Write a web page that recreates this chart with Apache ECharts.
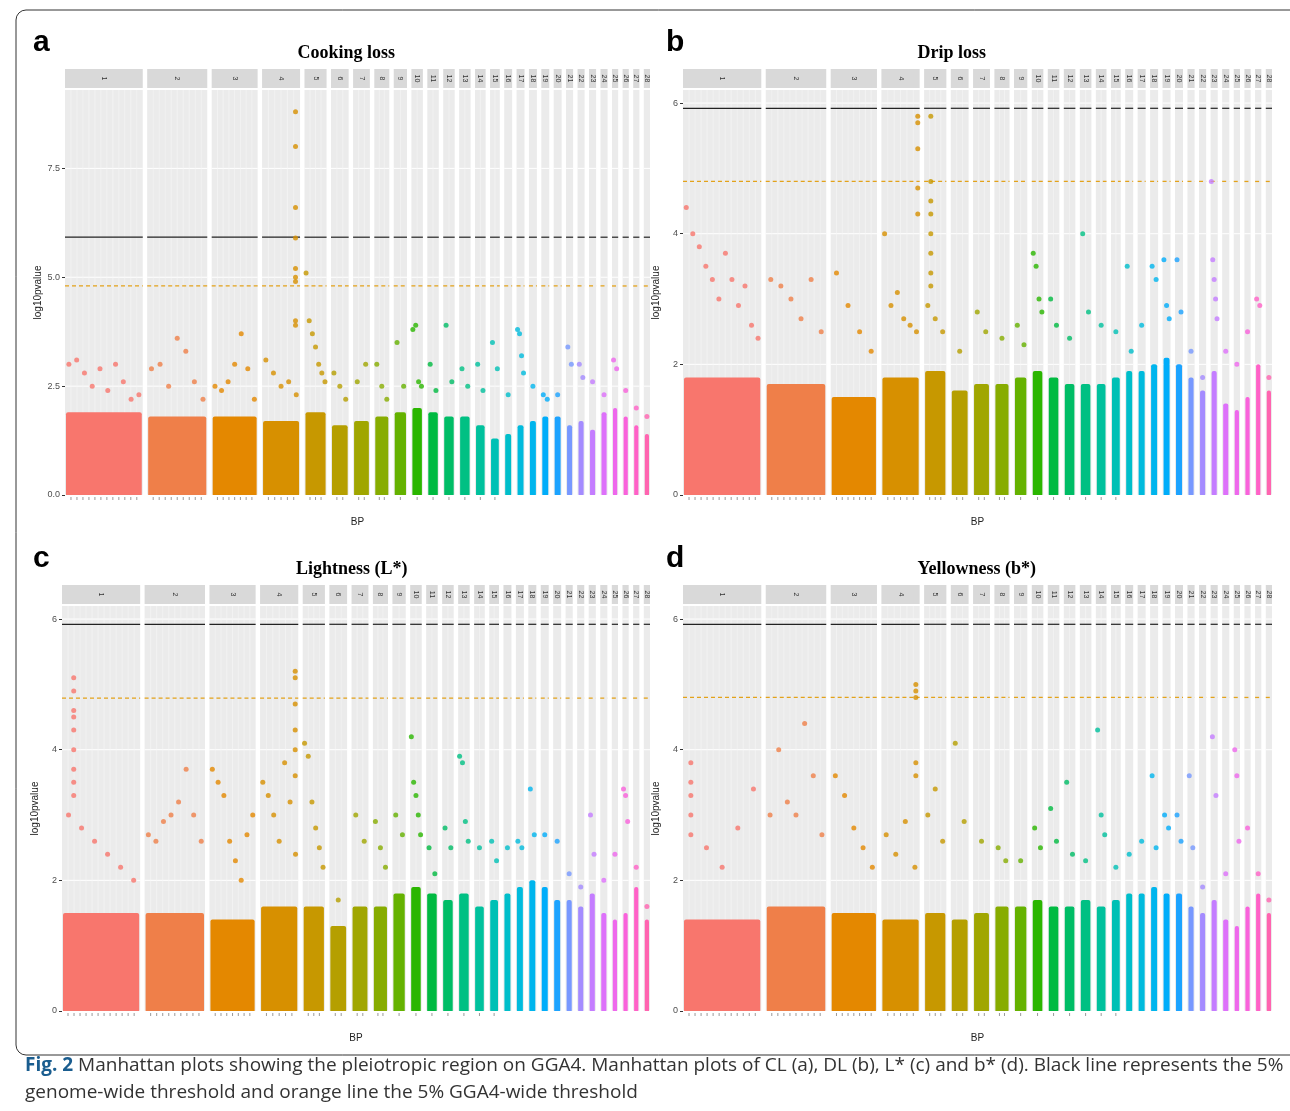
<!DOCTYPE html>
<html>
<head>
<meta charset="utf-8">
<title>Manhattan plots</title>
<script src="https://cdn.jsdelivr.net/npm/echarts@6/dist/echarts.min.js"></script>
</head>
<body style="margin:0;background:#fff">
<div id="main" style="width:1290px;height:1111px;"></div>
<script type="text/javascript">
// chromosome facets and their relative widths
var chroms = ['1','2','3','4','5','6','7','8','9','10','11','12','13','14','15','16','17','18','19','20','21','22','23','24','25','26','27','28'];
var chromWidths = [88,68,52,43,25,20,19,17,15,13,13,13,13,12,11,9,9,9,9,9,8,8,8,8,7,7,7,7];

var titles = ['Cooking loss', 'Drip loss', 'Lightness (L*)', 'Yellowness (b*)'];
var letters = ['a', 'b', 'c', 'd'];
var yMax = [9.3, 6.2, 6.2, 6.2];
var yTicks = [[0, 2.5, 5, 7.5], [0, 2, 4, 6], [0, 2, 4, 6], [0, 2, 4, 6]];
var genomeLine = [5.92, 5.92, 5.92, 5.92];
var gga4Line = [4.8, 4.8, 4.79, 4.8];

// height of the dense block of SNPs per chromosome
var bandA = [1.9,1.8,1.8,1.7,1.9,1.6,1.7,1.8,1.9,2.0,1.9,1.8,1.8,1.6,1.3,1.4,1.6,1.7,1.8,1.8,1.6,1.7,1.5,1.9,2.0,1.8,1.6,1.4];
var bandB = [1.8,1.7,1.5,1.8,1.9,1.6,1.7,1.7,1.8,1.9,1.8,1.7,1.7,1.7,1.8,1.9,1.9,2.0,2.1,2.0,1.8,1.6,1.9,1.4,1.3,1.5,2.0,1.6];
var bandC = [1.5,1.5,1.4,1.6,1.6,1.3,1.6,1.6,1.8,1.9,1.8,1.7,1.8,1.6,1.7,1.8,1.9,2.0,1.9,1.7,1.7,1.6,1.8,1.5,1.4,1.5,1.9,1.4];
var bandD = [1.4,1.6,1.5,1.4,1.5,1.4,1.5,1.6,1.6,1.7,1.6,1.6,1.7,1.6,1.7,1.8,1.8,1.9,1.8,1.8,1.6,1.5,1.7,1.4,1.3,1.6,1.8,1.5];

// scattered SNPs above the block, per chromosome
var topA = [[3.0,3.1,2.8,2.5,2.9,2.4,3.0,2.6,2.2,2.3],[2.9,3.0,2.5,3.6,3.3,2.6,2.2],[2.5,2.4,2.6,3.0,3.7,2.9,2.2],[3.1,2.8,2.5,2.6,2.3],
  [5.1,4.0,3.7,3.4,3.0,2.8,2.6],[2.8,2.5,2.2],[2.6,3.0],[3.0,2.5,2.2],[3.5,2.5],[3.8,3.9,2.6,2.5],[3.0,2.4],[3.9,2.6],[2.9,2.5],[3.0,2.4],
  [3.5,2.9],[2.3],[3.8,3.7,3.2,2.8],[2.5],[2.3,2.2],[2.3],[3.4,3.0],[3.0,2.7],[2.6],[2.3],[3.1,2.9],[2.4],[2.0],[1.8]];
var topB = [[4.4,4.0,3.8,3.5,3.3,3.0,3.7,3.3,2.9,3.2,2.6,2.4],[3.3,3.2,3.0,2.7,3.3,2.5],[3.4,2.9,2.5,2.2],[4.0,2.9,3.1,2.7,2.6,2.5],
  [2.9,2.7,2.5],[2.2],[2.8,2.5],[2.4],[2.6,2.3],[3.7,3.5,3.0,2.8],[3.0,2.6],[2.4],[4.0,2.8],[2.6],[2.5],[3.5,2.2],[2.6],[3.5,3.3],
  [3.6,2.9,2.7],[3.6,2.8],[2.2],[1.8],[4.8,3.6,3.3,3.0,2.7],[2.2],[2.0],[2.5],[3.0,2.9],[1.8]];
var topC = [[3.0,2.8,2.6,2.4,2.2,2.0],[2.7,2.6,2.9,3.0,3.2,3.7,3.0,2.6],[3.7,3.5,3.3,2.6,2.3,2.0,2.7,3.0],[3.5,3.3,3.0,2.6,3.8,3.2,2.4],
  [4.1,3.9,3.2,2.8,2.5,2.2],[1.7],[3.0,2.6],[2.9,2.5,2.2],[3.0,2.7],[4.2,3.5,3.3,3.0,2.7],[2.5,2.1],[2.8,2.5],[3.9,3.8,2.9,2.6],[2.5],
  [2.6,2.3],[2.5],[2.6,2.5],[3.4,2.7],[2.7],[2.6],[2.1],[1.9],[3.0,2.4],[2.0],[2.4],[3.4,3.3,2.9],[2.2],[1.6]];
var topD = [[2.7,2.5,2.2,2.8,3.4],[3.0,4.0,3.2,3.0,4.4,3.6,2.7],[3.6,3.3,2.8,2.5,2.2],[2.7,2.4,2.9,2.2],[3.0,3.4,2.6],[4.1,2.9],[2.6],
  [2.5,2.3],[2.3],[2.8,2.5],[3.1,2.6],[3.5,2.4],[2.3],[4.3,3.0,2.7],[2.2],[2.4],[2.6],[3.6,2.5],[3.0,2.8],[3.0,2.6],[3.6,2.5],[1.9],
  [4.2,3.3],[2.1],[4.0,3.6,2.6],[2.8],[2.1],[1.7]];

// tight vertical columns of significant SNPs: [chromosome, position in facet, values]
var peaksA = [[4, 0.88, [8.8, 8.0, 6.6, 5.9, 5.2, 5.0, 4.9, 4.0, 3.9]]];
var peaksB = [[4, 0.95, [5.8, 5.7, 5.3, 4.7, 4.3]], [5, 0.3, [5.8, 4.8, 4.5, 4.3, 4.0, 3.7, 3.4, 3.2]]];
var peaksC = [[1, 0.15, [5.1, 4.9, 4.6, 4.5, 4.3, 4.0, 3.7, 3.5, 3.3]], [4, 0.92, [5.2, 5.1, 4.7, 4.3, 4.0, 3.6]]];
var peaksD = [[4, 0.9, [5.0, 4.9, 4.8, 3.8, 3.6]], [1, 0.1, [3.8, 3.5, 3.3, 3.0]]];

var bands = [bandA, bandB, bandC, bandD];
var tops = [topA, topB, topC, topD];
var peaks = [peaksA, peaksB, peaksC, peaksD];

// ggplot-like hue palette
function hcl(h, c, l) {
  var hr = h * Math.PI / 180, u = c * Math.cos(hr), v = c * Math.sin(hr);
  var Y = l > 8 ? Math.pow((l + 16) / 116, 3) : l / 903.3;
  var up = u / (13 * l) + 0.1978, vp = v / (13 * l) + 0.4683;
  var X = Y * 9 * up / (4 * vp), Z = Y * (12 - 3 * up - 20 * vp) / (4 * vp);
  var rgb = [3.2406 * X - 1.5372 * Y - 0.4986 * Z, -0.9689 * X + 1.8758 * Y + 0.0415 * Z, 0.0557 * X - 0.2040 * Y + 1.0570 * Z];
  return 'rgb(' + rgb.map(function (x) {
    x = x <= 0.0031308 ? 12.92 * x : 1.055 * Math.pow(x, 1 / 2.4) - 0.055;
    return Math.round(Math.max(0, Math.min(1, x)) * 255);
  }).join(',') + ')';
}
var colors = chroms.map(function (c, i) { return hcl(15 + 330 * i / (chroms.length - 1), 100, 65); });

var gap = 5;
var starts = [], pos = 0;
chromWidths.forEach(function (w) { starts.push(pos); pos += w + gap; });
var xTotal = pos - gap;

var grids = [
  {left: 65, right: 640, top: 90, bottom: 616},
  {left: 683, right: 18, top: 90, bottom: 616},
  {left: 62, right: 640, top: 606, bottom: 100},
  {left: 683, right: 18, top: 606, bottom: 100}
];

var series = [], xAxes = [], yAxes = [], graphics = [];
grids.forEach(function (g, p) {
  xAxes.push({gridIndex: p, type: 'value', min: 0, max: xTotal, show: true, name: 'BP', nameLocation: 'middle', nameGap: 22,
    nameTextStyle: {fontSize: 10, color: '#222'}, axisLine: {show: false}, axisTick: {show: false}, axisLabel: {show: false}, splitLine: {show: false}});
  yAxes.push({gridIndex: p, type: 'value', min: 0, max: yMax[p], name: 'log10pvalue', nameLocation: 'middle', nameGap: 22,
    nameTextStyle: {fontSize: 10, color: '#222'}, axisLine: {show: false},
    axisLabel: {fontSize: 9, color: '#4d4d4d', margin: 5, customValues: yTicks[p], formatter: function (v) { return p === 0 ? v.toFixed(1) : String(v); }},
    axisTick: {show: true, customValues: yTicks[p], length: 3, lineStyle: {color: '#333'}}, splitLine: {show: false}});

  var facetData = chroms.map(function (c, i) { return [i, bands[p][i]]; });
  series.push({
    type: 'custom', xAxisIndex: p, yAxisIndex: p, clip: false, silent: true, z: 1,
    data: facetData,
    renderItem: function (params, api) {
      var i = api.value(0), cs = params.coordSys;
      var x0 = api.coord([starts[i], 0])[0], x1 = api.coord([starts[i] + chromWidths[i], 0])[0];
      var yb = cs.y + cs.height, w = x1 - x0;
      var ch = [];
      ch.push({type: 'rect', shape: {x: x0, y: cs.y, width: w, height: cs.height}, style: {fill: '#ebebeb'}});
      yTicks[p].forEach(function (t) {
        var y = api.coord([0, t])[1];
        ch.push({type: 'line', shape: {x1: x0, y1: y, x2: x1, y2: y}, style: {stroke: '#fff', lineWidth: 1}});
      });
      var nv = Math.max(1, Math.round(w / 6));
      for (var k = 1; k < nv; k++) {
        var xx = x0 + w * k / nv;
        ch.push({type: 'line', shape: {x1: xx, y1: cs.y, x2: xx, y2: yb}, style: {stroke: '#f7f7f7', lineWidth: 0.6}});
        ch.push({type: 'line', shape: {x1: xx, y1: yb + 2, x2: xx, y2: yb + 5}, style: {stroke: '#555', lineWidth: 0.6}});
      }
      ch.push({type: 'rect', shape: {x: x0, y: cs.y - 21, width: w, height: 19}, style: {fill: '#d9d9d9'}});
      ch.push({type: 'text', x: x0 + w / 2, y: cs.y - 11.5, rotation: -Math.PI / 2,
        style: {text: chroms[i], fontSize: 7, fill: '#333', align: 'center', verticalAlign: 'middle'}});
      var yTop = api.coord([0, api.value(1)])[1], y0 = api.coord([0, 0])[1];
      ch.push({type: 'rect', shape: {x: x0 + 1, y: yTop, width: w - 2, height: y0 - yTop, r: [2, 2, 0, 0]}, style: {fill: colors[i]}});
      var yg = api.coord([0, genomeLine[p]])[1], yo = api.coord([0, gga4Line[p]])[1];
      ch.push({type: 'line', shape: {x1: x0, y1: yg, x2: x1, y2: yg}, style: {stroke: '#222', lineWidth: 1.2}});
      ch.push({type: 'line', shape: {x1: x0, y1: yo, x2: x1, y2: yo}, style: {stroke: '#e3a21a', lineWidth: 1.3, lineDash: [4, 3]}});
      return {type: 'group', children: ch};
    }
  });

  var pts = [];
  tops[p].forEach(function (vals, i) {
    vals.forEach(function (v, k) {
      pts.push({value: [starts[i] + chromWidths[i] * (k + 0.5) / vals.length, v], itemStyle: {color: colors[i]}});
    });
  });
  peaks[p].forEach(function (pk) {
    var i = pk[0] - 1;
    pk[2].forEach(function (v) {
      pts.push({value: [starts[i] + chromWidths[i] * pk[1], v], itemStyle: {color: colors[i]}});
    });
  });
  series.push({type: 'scatter', xAxisIndex: p, yAxisIndex: p, symbolSize: 5, z: 3, silent: true, data: pts});

  var tx = g.left + (1290 - g.left - g.right) / 2;
  graphics.push({type: 'text', left: tx - 60, top: g.top - 46, style: {text: titles[p], font: 'bold 18px "Liberation Serif", serif', fill: '#000', width: 120, align: 'center'}});
  graphics.push({type: 'text', left: p % 2 ? 666 : 33, top: g.top - 62, style: {text: letters[p], font: 'bold 30px "Liberation Sans", Arial', fill: '#000'}});
});

graphics.push({type: 'rect', shape: {x: 16, y: 10, width: 1290, height: 1045, r: 10}, style: {fill: 'none', stroke: '#333', lineWidth: 1}, z: -1});
graphics.push({type: 'text', left: 25, top: 1056, style: {
  rich: {b: {font: 'bold 19px "Open Sans", sans-serif', fill: '#1a5d8f'}, n: {font: '19px "Open Sans", sans-serif', fill: '#333', lineHeight: 27}},
  text: '{b|Fig. 2}{n| Manhattan plots showing the pleiotropic region on GGA4. Manhattan plots of CL (a), DL (b), L* (c) and b* (d). Black line represents the 5%}\n{n|genome-wide threshold and orange line the 5% GGA4-wide threshold}'
}});

var myChart = echarts.init(document.getElementById('main'));
myChart.setOption({
  animation: false,
  grid: grids,
  xAxis: xAxes,
  yAxis: yAxes,
  series: series,
  graphic: graphics
});
</script>
</body>
</html>
